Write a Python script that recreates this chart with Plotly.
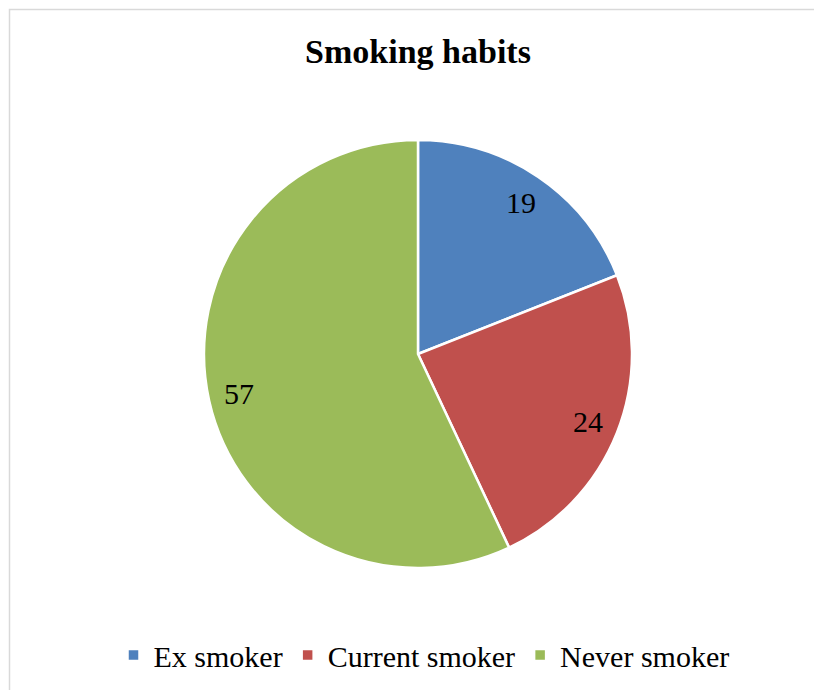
import numpy as np
import plotly.graph_objects as go

categories = ["Ex smoker", "Current smoker", "Never smoker"]
values = [19, 24, 57]
colors = ["#4F81BD", "#C0504D", "#9BBB59"]

W, H = 814, 690
cx, cy, r = 418, 354, 214
label_frac = 0.855
FONT = "Liberation Serif"

fig = go.Figure(go.Pie(
    labels=categories,
    values=values,
    marker=dict(colors=colors, line=dict(color="white", width=2.5)),
    sort=False,
    direction="clockwise",
    rotation=0,
    textinfo="none",
    domain=dict(x=[(cx - r) / W, (cx + r) / W], y=[1 - (cy + r) / H, 1 - (cy - r) / H]),
    hoverinfo="label+value",
))

# data labels placed at slice mid-angles (derived from values)
vals = np.array(values, dtype=float)
cum = np.cumsum(vals) - vals / 2
angles = cum / vals.sum() * 2 * np.pi
annotations = []
for v, a in zip(values, angles):
    px = cx + label_frac * r * np.sin(a)
    py = cy - label_frac * r * np.cos(a)
    annotations.append(dict(x=px / W, y=1 - py / H, xref="paper", yref="paper",
                            text=str(v), showarrow=False, xanchor="center", yanchor="middle",
                            font=dict(family=FONT, size=30, color="black")))

fig.update_layout(
    width=W, height=H,
    margin=dict(l=0, r=0, t=0, b=0),
    paper_bgcolor="white",
    plot_bgcolor="white",
    title=dict(text="<b>Smoking habits</b>", x=418 / W, xanchor="center", y=1 - 51 / H, yanchor="middle",
               font=dict(family=FONT, size=34, color="black")),
    legend=dict(orientation="h", x=424 / W, xanchor="center", y=1 - 655 / H, yanchor="middle",
                font=dict(family=FONT, size=30, color="black"),
                itemwidth=30, tracegroupgap=0),
    annotations=annotations,
    shapes=[dict(type="rect", xref="paper", yref="paper",
                 x0=9.5 / W, x1=1.05, y0=-0.05, y1=1 - 9.5 / H,
                 line=dict(color="#D9D9D9", width=1.5), fillcolor="rgba(0,0,0,0)")],
)

fig.write_html("out.html")
